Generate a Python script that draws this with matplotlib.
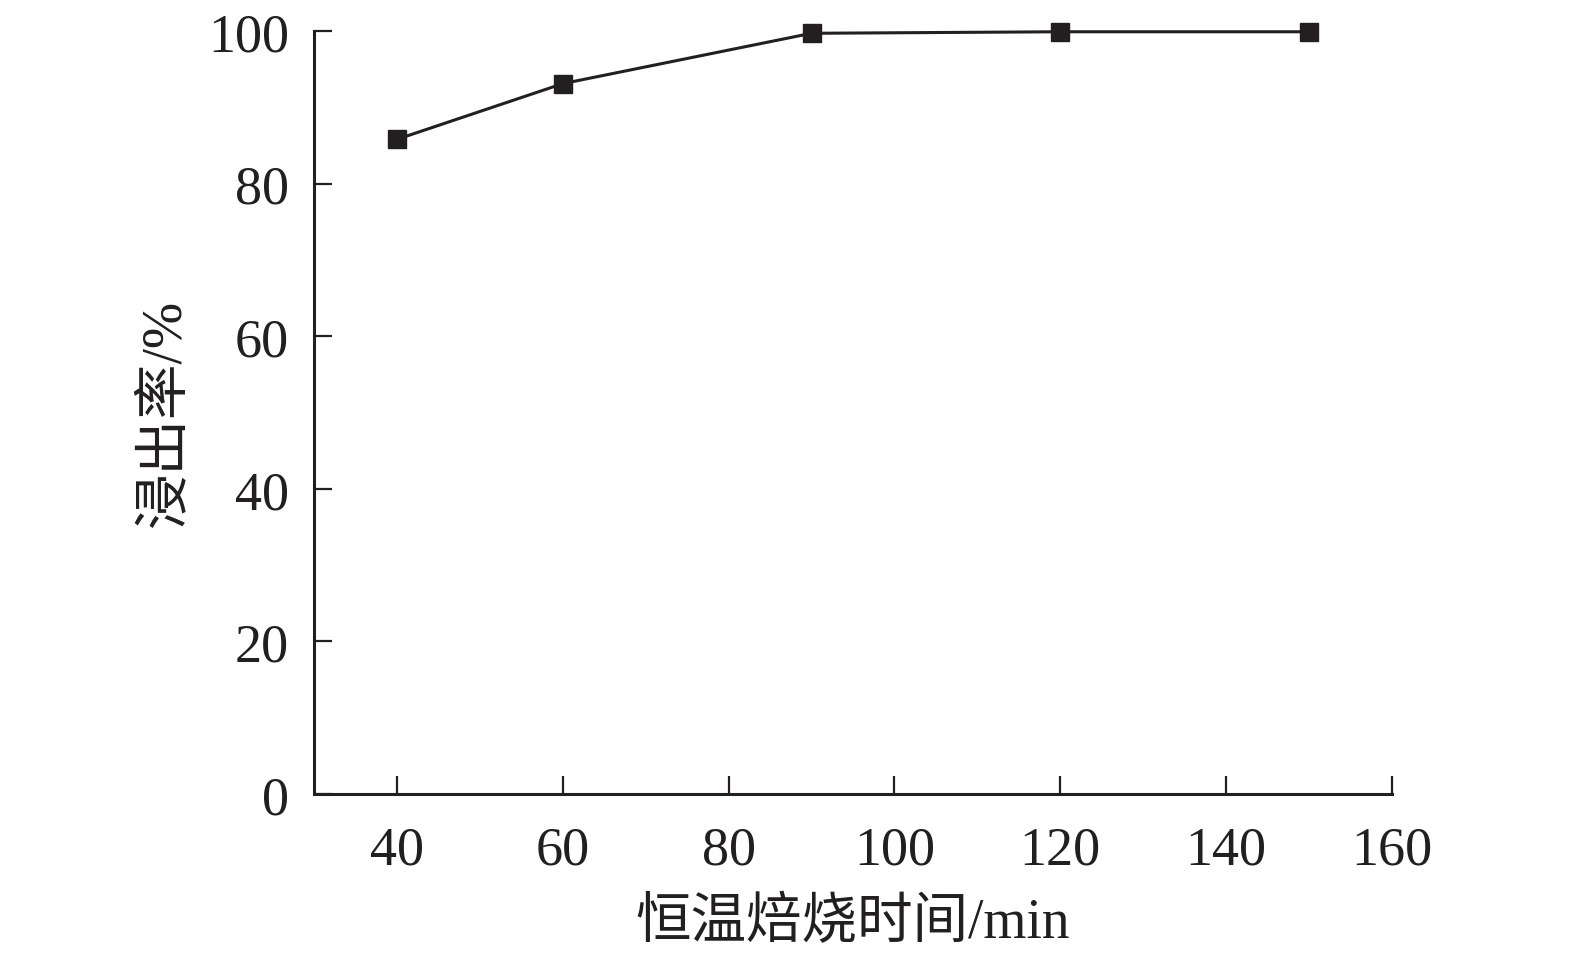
import matplotlib
matplotlib.use("Agg")
import matplotlib.pyplot as plt

time_min = [40, 60, 90, 120, 150]
leach_rate = [85.8, 93.1, 99.7, 99.9, 99.9]
x_ticks = [40, 60, 80, 100, 120, 140, 160]
y_ticks = [0, 20, 40, 60, 80, 100]

plt.rcParams['font.family'] = ['Liberation Serif', 'Noto Sans CJK SC', 'DejaVu Sans']
color = '#231f20'

fig = plt.figure(figsize=(15.75, 9.54), dpi=100)
ax = fig.add_axes([314/1575, 1-795/954, (1392-314)/1575, (795-32)/954])

ax.plot(time_min, leach_rate, color=color, lw=2.2, marker='s', ms=13,
        markerfacecolor=color, markeredgecolor=color, clip_on=False)

ax.set_xlim(30, 160)
ax.set_ylim(0, 100)
ax.set_xticks(x_ticks)
ax.set_yticks(y_ticks)
for s in ['top', 'right']:
    ax.spines[s].set_visible(False)
for s in ['left', 'bottom']:
    ax.spines[s].set_linewidth(2.2)
    ax.spines[s].set_color(color)
ax.tick_params(direction='in', length=13, width=1.6, colors=color, labelsize=39)
ax.tick_params(axis='y', pad=18)
ax.tick_params(axis='x', pad=22)
for lab in ax.get_xticklabels() + ax.get_yticklabels():
    lab.set_color(color)

ax.set_xlabel('恒温焙烧时间/min', fontsize=40, color=color, labelpad=16)
ax.set_ylabel('浸出率/%', fontsize=40, color=color, labelpad=12)

fig.savefig('out.png', dpi=100, facecolor='white')
